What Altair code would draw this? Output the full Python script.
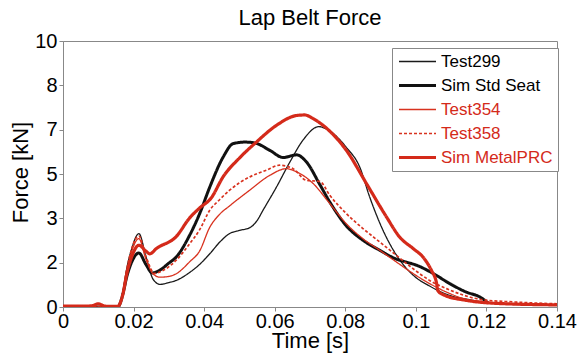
import altair as alt
import pandas as pd

series_names = ["Test299", "Sim Std Seat", "Test354", "Test358", "Sim MetalPRC"]

t_299 = [0, 0.0155, 0.017, 0.018, 0.0195, 0.0215, 0.0235, 0.0255, 0.0275, 0.030, 0.0321, 0.0359, 0.0387, 0.0416,
         0.0445, 0.0472, 0.050, 0.0529, 0.055, 0.0567, 0.0605, 0.0643, 0.068, 0.0725, 0.0745, 0.0803, 0.0841,
         0.0869, 0.0907, 0.0945, 0.0992, 0.104, 0.110, 0.115, 0.120]
f_299 = [0, 0, 0.6, 1.4, 2.2, 2.76, 1.9, 1.05, 0.85, 0.92, 1.0, 1.3, 1.6, 2.0,
         2.45, 2.76, 2.88, 2.98, 3.25, 3.64, 4.51, 5.45, 6.27, 6.78, 6.7, 6.0, 5.26,
         4.14, 2.88, 1.95, 1.2, 0.78, 0.42, 0.28, 0.15]

t_std = [0, 0.0155, 0.017, 0.018, 0.0195, 0.0215, 0.0235, 0.0253, 0.027, 0.030, 0.0321, 0.0359, 0.0387, 0.0416,
         0.0454, 0.0482, 0.0515, 0.0543, 0.0586, 0.0624, 0.0662, 0.069, 0.0728, 0.0756, 0.0803, 0.085, 0.0898,
         0.0945, 0.0975, 0.1002, 0.1049, 0.1096, 0.1143, 0.1181, 0.1205]
f_std = [0, 0, 0.5, 1.1, 1.7, 2.03, 1.6, 1.28, 1.35, 1.65, 1.88, 2.7, 3.5, 4.51,
         5.64, 6.14, 6.2, 6.17, 5.89, 5.62, 5.72, 5.45, 4.6, 3.95, 3.05, 2.51, 2.13,
         1.8, 1.68, 1.57, 1.26, 0.88, 0.56, 0.38, 0.15]

t_354 = [0, 0.0155, 0.017, 0.018, 0.0195, 0.0215, 0.0235, 0.0255, 0.0275, 0.030, 0.0321, 0.0359, 0.0387, 0.0416,
         0.0445, 0.0472, 0.0529, 0.0586, 0.0633, 0.0662, 0.068, 0.0709, 0.0756, 0.0803, 0.085, 0.0898, 0.0945,
         0.0992, 0.1039, 0.1087, 0.1134, 0.120, 0.128, 0.135]
f_354 = [0, 0, 0.55, 1.3, 2.1, 2.57, 1.8, 1.25, 1.12, 1.15, 1.25, 1.7, 2.1, 3.0,
         3.5, 3.8, 4.39, 4.95, 5.2, 5.08, 4.95, 4.64, 3.89, 3.13, 2.57, 2.13, 1.69,
         1.26, 0.88, 0.56, 0.32, 0.19, 0.1, 0.06]

t_358 = [0, 0.0155, 0.017, 0.018, 0.0195, 0.0215, 0.0235, 0.026, 0.028, 0.0321, 0.0359, 0.0387, 0.0416, 0.0445,
         0.0472, 0.0529, 0.0576, 0.0614, 0.0652, 0.069, 0.0728, 0.0756, 0.0803, 0.085, 0.0898, 0.0945, 0.0992,
         0.1039, 0.1087, 0.1134, 0.1181, 0.1276, 0.140]
f_358 = [0, 0, 0.55, 1.35, 2.2, 2.67, 1.9, 1.26, 1.35, 1.76, 2.38, 2.9, 3.64, 4.05,
         4.39, 4.89, 5.14, 5.33, 5.2, 4.76, 4.72, 4.2, 3.51, 2.95, 2.44, 1.94, 1.44,
         1.0, 0.69, 0.45, 0.29, 0.19, 0.12]

t_prc = [0, 0.008, 0.010, 0.012, 0.0155, 0.017, 0.018, 0.0195, 0.0215, 0.0235, 0.0246, 0.0265, 0.0321, 0.0359,
         0.0387, 0.042, 0.0454, 0.050, 0.0548, 0.0605, 0.0662, 0.0685, 0.0709, 0.0737, 0.0775, 0.0803, 0.086,
         0.0917, 0.0954, 0.0992, 0.102, 0.1044, 0.1058, 0.1063, 0.108, 0.1143, 0.1238, 0.140]
f_prc = [0.03, 0.04, 0.12, 0.03, 0.02, 0.5, 1.2, 1.9, 2.32, 2.1, 2.0, 2.2, 2.65, 3.35,
         3.72, 4.1, 4.9, 5.6, 6.2, 6.83, 7.2, 7.22, 7.08, 6.83, 6.35, 5.89, 4.64,
         3.38, 2.63, 2.2, 1.88, 1.38, 0.94, 0.6, 0.45, 0.25, 0.13, 0.08]

series_colors = ["#1a1a1a", "#111111", "#d8321f", "#d8321f", "#d42a1a"]
series_widths = [1.3, 3.0, 1.3, 1.7, 3.2]
series_dashes = [[1, 0], [1, 0], [1, 0], [3, 2], [1, 0]]

x_tick_values = [0, 0.02, 0.04, 0.06, 0.08, 0.1, 0.12, 0.14]
y_tick_values = [0, 1.6667, 3.3333, 5, 6.6667, 8.3333, 10]

rows = []
for name, ts, fs in zip(series_names,
                        [t_299, t_std, t_354, t_358, t_prc],
                        [f_299, f_std, f_354, f_358, f_prc]):
    for t, f in zip(ts, fs):
        rows.append({"series": name, "t": t, "f": f})
df = pd.DataFrame(rows)

FONT = "Liberation Sans"

label_fill = ("indexof(['Test354','Test358','Sim MetalPRC'], datum.label) >= 0 ? '#d42a1a' : '#000000'")

chart = alt.Chart(df).mark_line(interpolate="monotone", clip=True).encode(
    x=alt.X("t:Q", title="Time [s]",
            scale=alt.Scale(domain=[0, 0.14], nice=False, zero=False),
            axis=alt.Axis(values=x_tick_values, format="~g", grid=False,
                          labelFontSize=20, titleFontSize=22, labelFlush=False,
                          tickSize=4, labelPadding=0,
                          titleY=40, titleBaseline="alphabetic")),
    y=alt.Y("f:Q", title="Force [kN]",
            scale=alt.Scale(domain=[0, 10], nice=False),
            axis=alt.Axis(values=y_tick_values, format=".0f", grid=False,
                          labelFontSize=20, titleFontSize=22, labelFlush=False,
                          tickSize=4, labelPadding=2,
                          titleX=-36, titleY=131, titleBaseline="alphabetic")),
    color=alt.Color("series:N",
                    scale=alt.Scale(domain=series_names, range=series_colors),
                    legend=alt.Legend(title=None, orient="none", legendX=329, legendY=7,
                                      symbolType="stroke", symbolSize=1369, clipHeight=17,
                                      labelFontSize=17, labelFont=FONT,
                                      strokeColor="#888888", fillColor="white",
                                      padding=5, rowPadding=6, labelOffset=3,
                                      labelColor=alt.ExprRef(expr=label_fill))),
    strokeWidth=alt.StrokeWidth("series:N",
                                scale=alt.Scale(type="ordinal", domain=series_names, range=series_widths)),
    strokeDash=alt.StrokeDash("series:N",
                              scale=alt.Scale(domain=series_names, range=series_dashes)),
).properties(
    width=494, height=266,
    title=alt.TitleParams("Lap Belt Force", fontSize=22, font=FONT, fontWeight="normal",
                          anchor="middle", offset=1, color="black"),
    autosize=alt.AutoSizeParams(type="none"),
    padding={"left": 63, "top": 41, "right": 25, "bottom": 57},
).configure_view(
    stroke="#888888", strokeWidth=1
).configure_axis(
    labelFont=FONT, titleFont=FONT, titleFontWeight="normal",
    labelColor="black", titleColor="black",
    domainColor="#888888", tickColor="#888888",
)

chart.save("out.html", embed_options={"renderer": "svg", "actions": False})
